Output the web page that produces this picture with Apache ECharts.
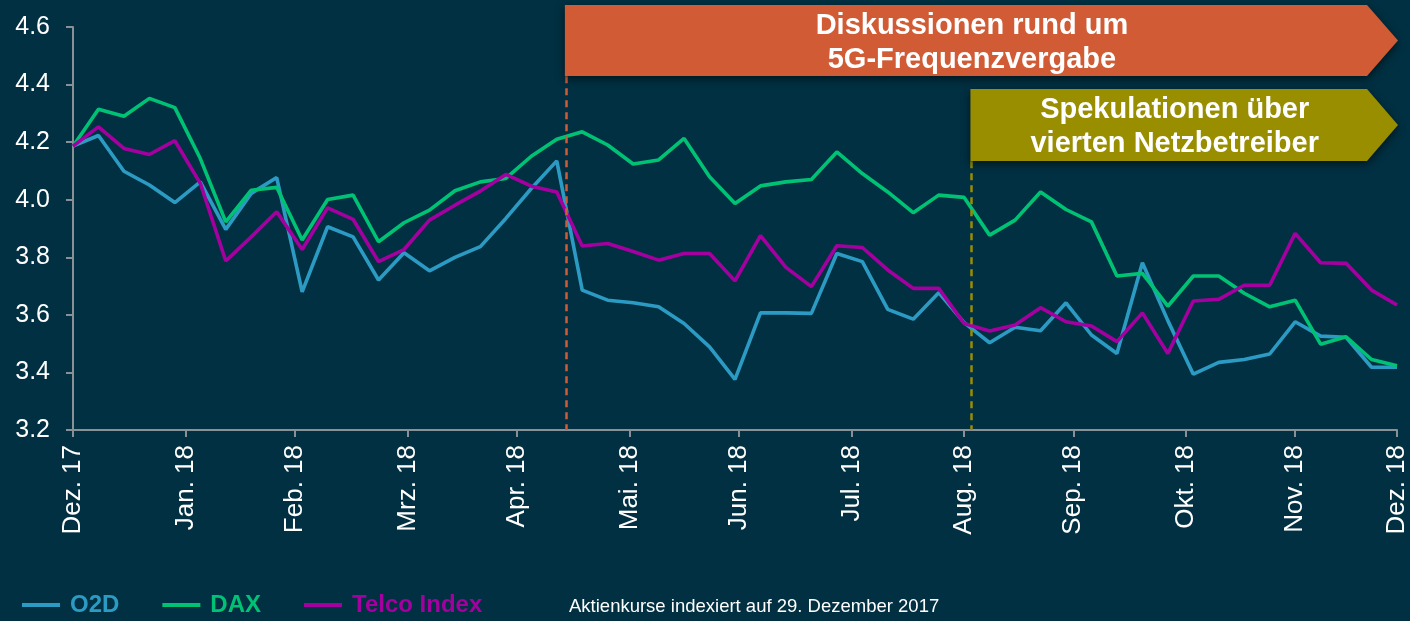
<!DOCTYPE html>
<html><head><meta charset="utf-8">
<script src="https://cdn.jsdelivr.net/npm/echarts@6/dist/echarts.min.js"></script>
<style>html,body{margin:0;padding:0;background:#003042;}#c{width:1410px;height:621px;}</style>
</head><body><div id="c"></div>
<script>
// ---- data ----
const weekDates = ['2017-12-29','2018-01-05','2018-01-12','2018-01-19','2018-01-26','2018-02-02','2018-02-09','2018-02-16','2018-02-23',
 '2018-03-02','2018-03-09','2018-03-16','2018-03-23','2018-03-30','2018-04-06','2018-04-13','2018-04-20','2018-04-27',
 '2018-05-04','2018-05-11','2018-05-18','2018-05-25','2018-06-01','2018-06-08','2018-06-15','2018-06-22','2018-06-29',
 '2018-07-06','2018-07-13','2018-07-20','2018-07-27','2018-08-03','2018-08-10','2018-08-17','2018-08-24','2018-08-31',
 '2018-09-07','2018-09-14','2018-09-21','2018-09-28','2018-10-05','2018-10-12','2018-10-19','2018-10-26','2018-11-02',
 '2018-11-09','2018-11-16','2018-11-23','2018-11-30','2018-12-07','2018-12-14','2018-12-21','2018-12-28'];
const o2d = [4.186,4.223,4.099,4.051,3.990,4.062,3.897,4.022,4.077,3.680,3.906,3.871,3.721,3.816,3.753,3.800,3.837,3.935,
 4.039,4.135,3.686,3.651,3.642,3.628,3.570,3.489,3.376,3.607,3.607,3.605,3.813,3.785,3.619,3.585,3.677,3.573,
 3.503,3.557,3.545,3.642,3.530,3.466,3.781,3.580,3.394,3.435,3.445,3.464,3.576,3.526,3.522,3.418,3.418];
const dax = [4.186,4.314,4.290,4.352,4.320,4.143,3.923,4.033,4.043,3.860,4.001,4.016,3.854,3.920,3.964,4.031,4.062,4.074,
 4.151,4.210,4.236,4.190,4.124,4.138,4.213,4.080,3.987,4.048,4.062,4.070,4.166,4.091,4.027,3.955,4.016,4.008,
 3.877,3.929,4.027,3.966,3.923,3.735,3.744,3.630,3.735,3.735,3.675,3.628,3.651,3.498,3.524,3.445,3.423];
const telco = [4.186,4.253,4.178,4.157,4.205,4.057,3.787,3.871,3.958,3.827,3.972,3.932,3.785,3.827,3.929,3.981,4.030,4.088,
 4.047,4.027,3.839,3.848,3.820,3.790,3.813,3.813,3.718,3.875,3.765,3.698,3.840,3.834,3.756,3.692,3.692,3.570,
 3.544,3.565,3.625,3.576,3.561,3.507,3.607,3.466,3.648,3.654,3.703,3.703,3.883,3.781,3.779,3.686,3.634];
const seriesNames = ['O2D','DAX','Telco Index'];
const tickDates = ['2017-12-29','2018-01-29','2018-02-28','2018-03-31','2018-04-30','2018-05-31','2018-06-30',
 '2018-07-31','2018-08-31','2018-09-30','2018-10-31','2018-11-30','2018-12-28'];
const tickLabels = ['Dez. 17','Jan. 18','Feb. 18','Mrz. 18','Apr. 18','Mai. 18','Jun. 18','Jul. 18','Aug. 18',
 'Sep. 18','Okt. 18','Nov. 18','Dez. 18'];
const eventDates = ['2018-05-13','2018-09-02'];
const eventTexts = ['Diskussionen rund um\n5G-Frequenzvergabe','Spekulationen über\nvierten Netzbetreiber'];
const footnote = 'Aktienkurse indexiert auf 29. Dezember 2017';

// ---- styles ----
const BG = '#003042';
const colors = ['#2c9bc4','#00c275','#a4009f'];
const eventColors = ['#d05b34','#998d00'];
const FONT = 'Liberation Sans, Arial, sans-serif';
const AX = '#8a9196';

// dates -> days since first date (x scale unit)
function day(s){const [y,m,d]=s.split('-').map(Number);return Math.round((Date.UTC(y,m-1,d)-Date.UTC(2017,11,29))/86400000);}
const tickDays = tickDates.map(day);
const xMax = day(weekDates[weekDates.length-1]);

const chart = echarts.init(document.getElementById('c'), null, {renderer:'canvas'});
const mk = (arr) => weekDates.map((d,i)=>[day(d), arr[i]]);
const seriesData = [o2d, dax, telco];

const option = {
  backgroundColor: BG,
  animation: false,
  grid: {left:73, right:13, top:27, bottom:191, containLabel:false},
  legend: {
    left: 17, top: 588, icon:'rect', itemWidth:38, itemHeight:4, itemGap:43,
    data: seriesNames.map((n,i)=>({name:n, textStyle:{color:colors[i]}})),
    textStyle:{fontFamily:FONT, fontSize:24, fontWeight:'bold', padding:[0,0,0,5]}
  },
  xAxis: {
    type:'value', min:0, max:xMax,
    axisLine:{show:true, onZero:false, lineStyle:{color:AX, width:2}},
    axisTick:{show:true, customValues: tickDays, length:7, lineStyle:{color:AX, width:2}},
    axisLabel:{customValues: tickDays, rotate:90, margin:15, color:'#ffffff', fontFamily:FONT, fontSize:26,
      formatter:(v)=>{const i=tickDays.indexOf(Math.round(v)); return i>=0?tickLabels[i]:'';}},
    splitLine:{show:false}
  },
  yAxis: {
    type:'value', min:3.2, max:4.6, interval:0.2,
    axisLine:{show:true, onZero:false, lineStyle:{color:AX, width:2}},
    axisTick:{show:true, inside:false, length:7, lineStyle:{color:AX, width:2}},
    axisLabel:{color:'#ffffff', fontFamily:FONT, fontSize:25, margin:23, formatter:(v)=>v.toFixed(1)},
    splitLine:{show:false}
  },
  series: seriesNames.map((n,i)=>({
    name:n, type:'line', data: mk(seriesData[i]), symbol:'none', smooth:false,
    lineStyle:{color:colors[i], width:3.6}, itemStyle:{color:colors[i]}, z: 2+i
  })).concat([{
    type:'line', data:[], silent:true,
    markLine:{silent:true, symbol:['none','none'], label:{show:false},
      data:[
        [{coord:[day(eventDates[0])+0.5,4.429], lineStyle:{color:eventColors[0], type:[7,5], width:2.5}},{coord:[day(eventDates[0])+0.5,3.2]}],
        [{coord:[day(eventDates[1]),4.134], lineStyle:{color:eventColors[1], type:[7,5], width:2.5}},{coord:[day(eventDates[1]),3.2]}]
      ]}
  }])
};
chart.setOption(option);

// annotation banners, positioned from axis scales
function px(x, v){return chart.convertToPixel({gridIndex:0}, [x, v]);}
const tipX = px(xMax, 3.2)[0] + 1;
const rectR = tipX - 31;
const bands = [[5,76],[89,161]];
const graphics = [];
eventDates.forEach((d,i)=>{
  const x0 = px(day(d) + (i===0?0.5:0), 3.2)[0] - 1;
  const [t,b] = bands[i];
  const m = (t+b)/2;
  graphics.push({type:'polygon', z:100,
    shape:{points:[[x0,t],[rectR,t],[tipX,m],[rectR,b],[x0,b]]},
    style:{fill:eventColors[i], shadowBlur:8, shadowOffsetY:3, shadowColor:'rgba(0,0,0,0.55)'}});
  graphics.push({type:'text', z:101, x:(x0+rectR)/2+6, y:m+2,
    style:{text:eventTexts[i], fill:'#ffffff', fontFamily:FONT, fontSize:29, fontWeight:'bold',
      align:'center', verticalAlign:'middle', lineHeight:34}});
});
graphics.push({type:'text', left:569, top:597, style:{text:footnote, fill:'#ffffff', fontFamily:FONT, fontSize:18.5}});
chart.setOption({graphic: graphics});
</script>
</body></html>
